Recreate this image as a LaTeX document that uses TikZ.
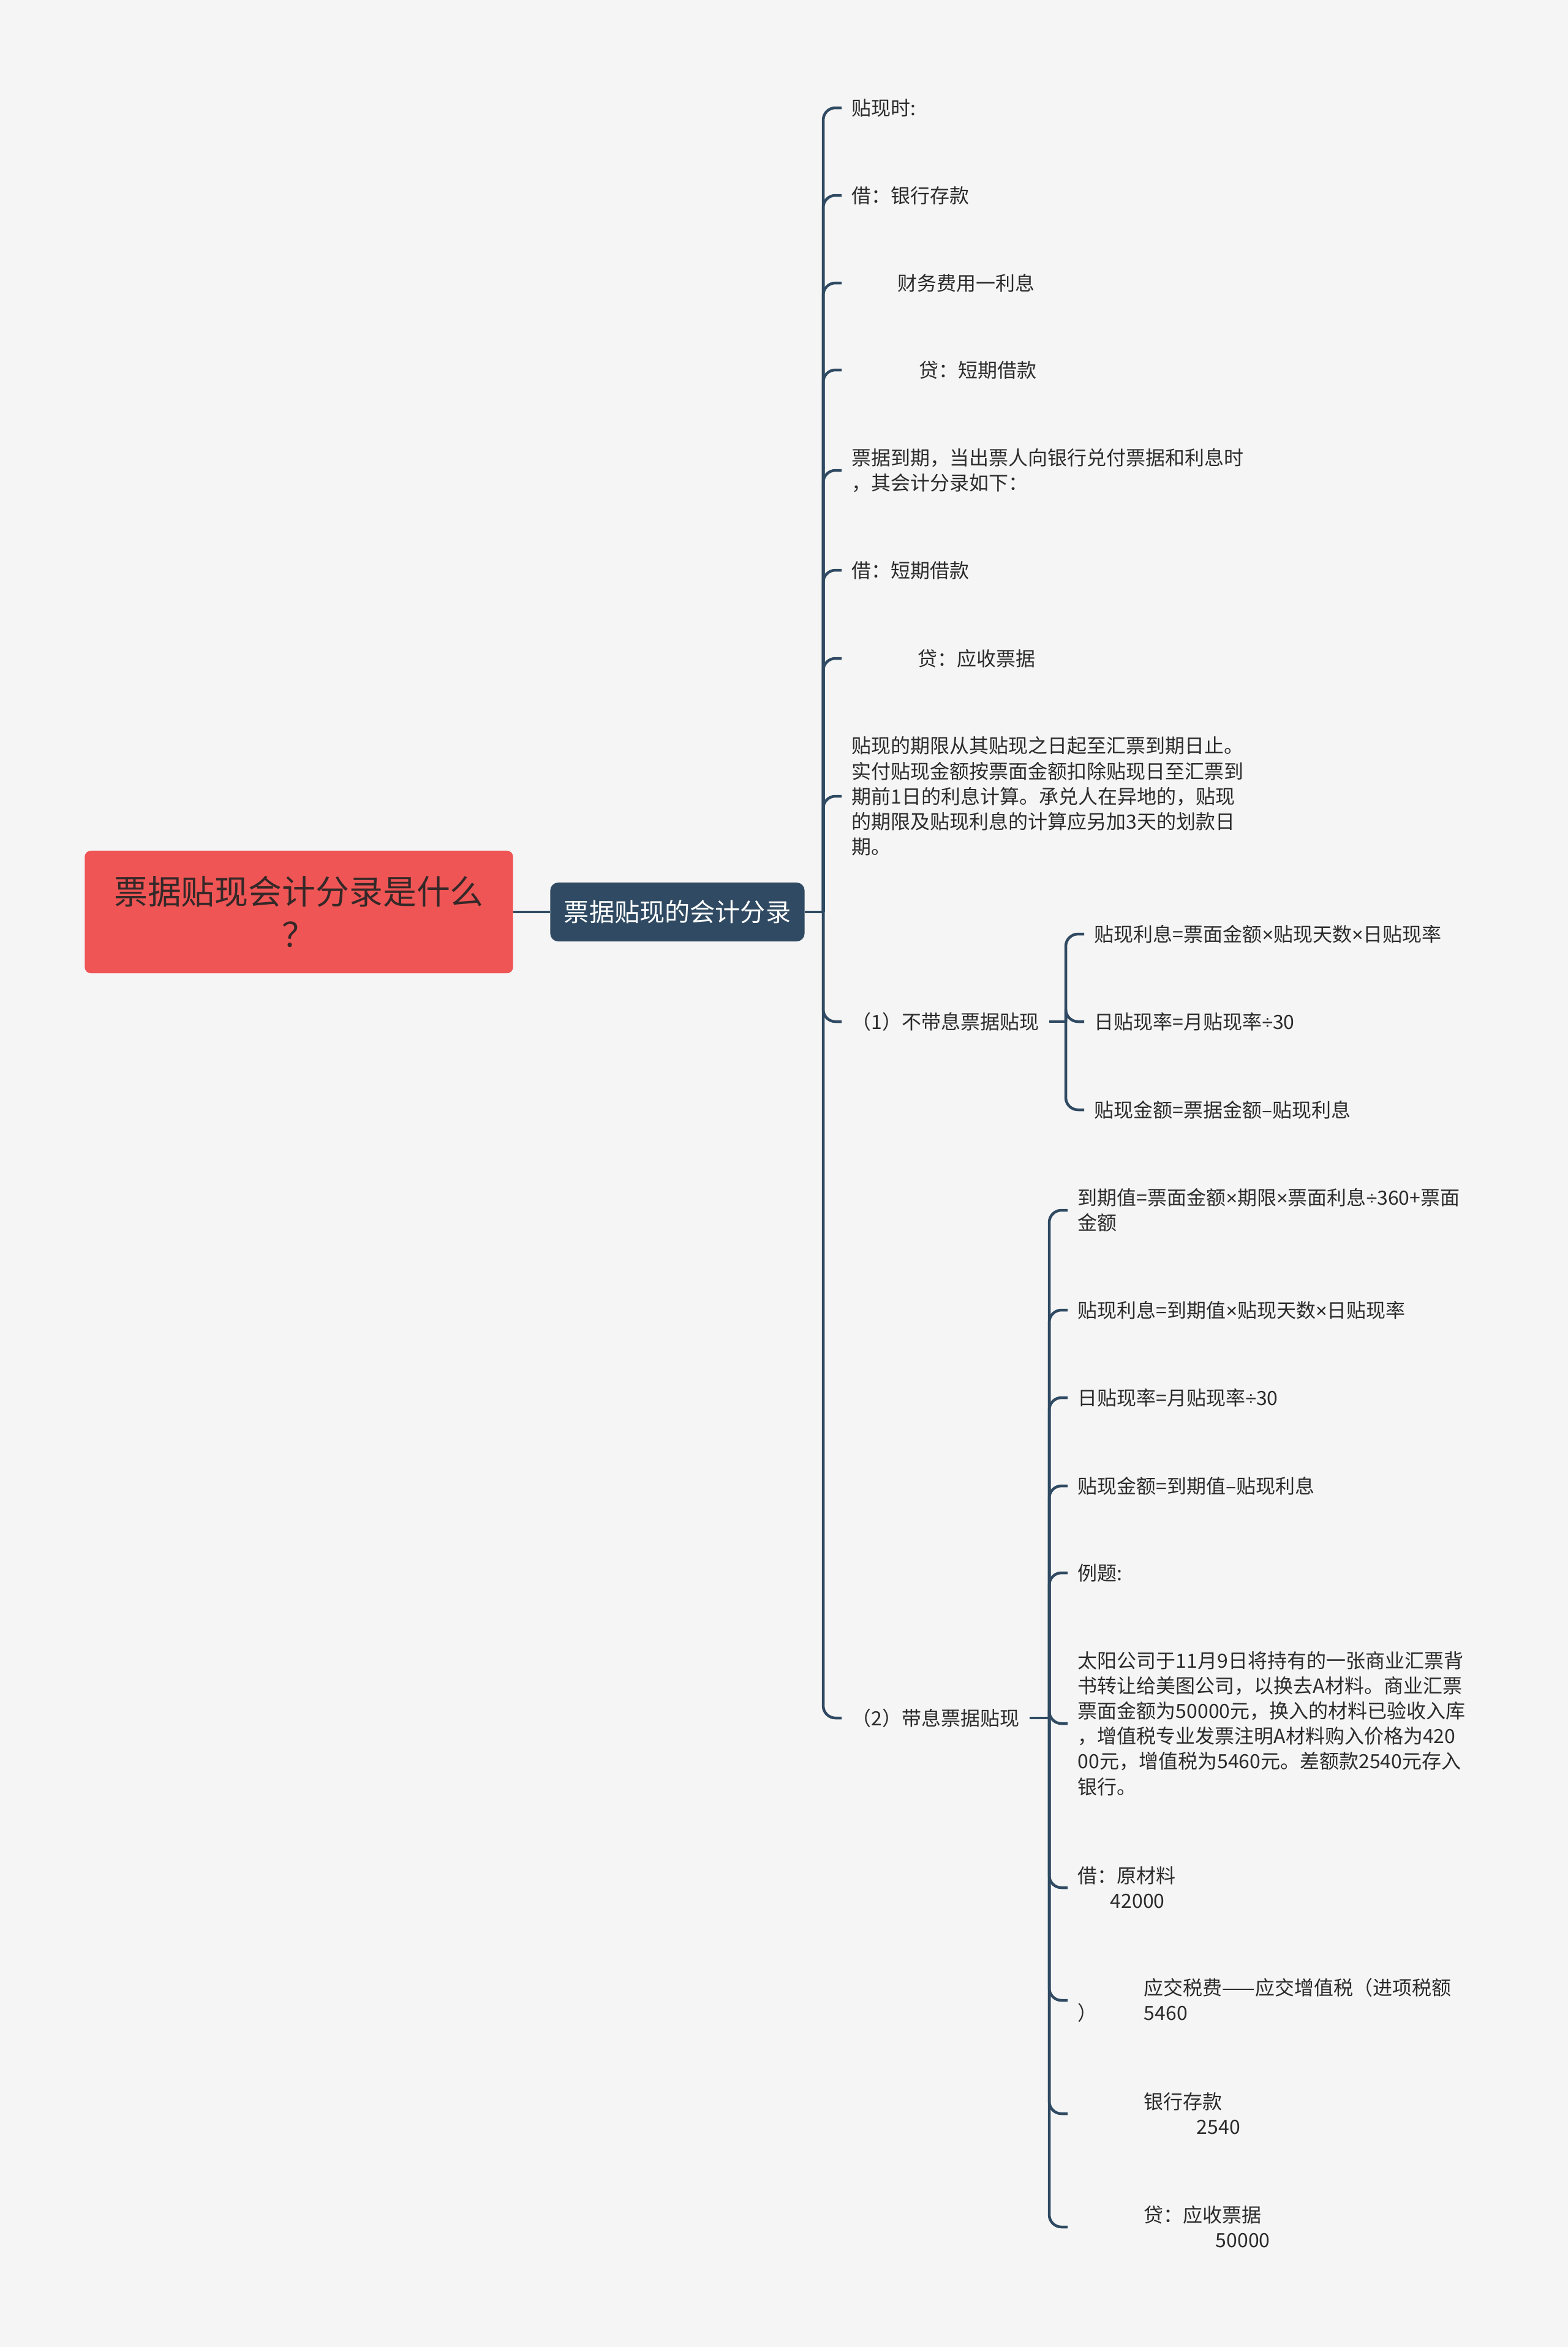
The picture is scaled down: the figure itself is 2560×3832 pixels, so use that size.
\documentclass[tikz,border=0pt]{standalone}
\usepackage{fontspec}
\setmainfont{Noto Sans CJK SC}
\newfontfamily\latfont{Liberation Sans}
\newcommand\xmul{{\latfont ×}}
\newcommand\xdiv{{\latfont ÷}}
\definecolor{rootred}{HTML}{F05555}
\definecolor{slate}{HTML}{2F4A62}
\definecolor{paper}{HTML}{F5F5F5}
\definecolor{ink}{HTML}{2B2B2B}
\definecolor{rootink}{HTML}{352828}

\begin{document}
\begin{tikzpicture}[x=0.01cm,y=-0.01cm,
    link/.style={draw=slate,line width=0.045cm,rounded corners=0.2cm},
    leaf/.style={anchor=west,inner xsep=0.16cm,inner ysep=0cm,align=left,text=ink,
      font=\fontsize{9.1pt}{11.7pt}\selectfont},
    rootbox/.style={fill=rootred,rounded corners=0.1cm,minimum width=6.99cm,minimum height=2cm,
      align=center,text=rootink,font=\fontsize{15.6pt}{19.9pt}\selectfont},
    subbox/.style={fill=slate,rounded corners=0.13cm,minimum width=4.15cm,minimum height=0.96cm,
      text=white,font=\fontsize{11.7pt}{14pt}\selectfont}]
        \fill[paper] (0,0) rectangle (2560,3832);
        \useasboundingbox (0,0) rectangle (2560,3832);

        \node[rootbox] (root) at (488,1489) {票据贴现会计分录是什么\\？};
        \node[subbox] (sub) at (1106,1489) {票据贴现的会计分录};
        \coordinate (j0) at (1344,1489);

        \node[leaf] (t1) at (1374,176) {贴现时:};
        \node[leaf] (t2) at (1374,319) {借：银行存款};
        \node[leaf] (t3) at (1374,462) {\hspace*{0.75cm}财务费用一利息};
        \node[leaf] (t4) at (1374,604) {\hspace*{1.1cm}贷：短期借款};
        \node[leaf] (t5) at (1374,768) {票据到期，当出票人向银行兑付票据和利息时\\，其会计分录如下：};
        \node[leaf] (t6) at (1374,931) {借：短期借款};
        \node[leaf] (t7) at (1374,1075) {\hspace*{1.08cm}贷：应收票据};
        \node[leaf] (t8) at (1374,1300) {贴现的期限从其贴现之日起至汇票到期日止。\\实付贴现金额按票面金额扣除贴现日至汇票到\\期前1日的利息计算。承兑人在异地的，贴现\\的期限及贴现利息的计算应另加3天的划款日\\期。};
        \node[leaf] (t9) at (1374,1668) {（1）不带息票据贴现};
        \node[leaf] (t10) at (1374,2805) {（2）带息票据贴现};

        \coordinate (j1) at (1740,1668);
        \node[leaf] (a1) at (1770,1525) {贴现利息=票面金额\xmul 贴现天数\xmul 日贴现率};
        \node[leaf] (a2) at (1770,1668) {日贴现率=月贴现率\xdiv 30};
        \node[leaf] (a3) at (1770,1812) {贴现金额=票据金额–贴现利息};

        \coordinate (j2) at (1713,2805);
        \node[leaf] (b1) at (1743,1976) {到期值=票面金额\xmul 期限\xmul 票面利息\xdiv 360+票面\\金额};
        \node[leaf] (b2) at (1743,2139) {贴现利息=到期值\xmul 贴现天数\xmul 日贴现率};
        \node[leaf] (b3) at (1743,2282) {日贴现率=月贴现率\xdiv 30};
        \node[leaf] (b4) at (1743,2426) {贴现金额=到期值–贴现利息};
        \node[leaf] (b5) at (1743,2568) {例题:};
        \node[leaf] (b6) at (1743,2814) {太阳公司于11月9日将持有的一张商业汇票背\\书转让给美图公司，以换去A材料。商业汇票\\票面金额为50000元，换入的材料已验收入库\\，增值税专业发票注明A材料购入价格为420\\00元，增值税为5460元。差额款2540元存入\\银行。};
        \node[leaf] (b7) at (1743,3082) {借：原材料\\\hspace*{0.53cm}42000};
        \node[leaf] (b8) at (1743,3266) {\hspace*{1.08cm}应交税费——应交增值税（进项税额\\）\hspace*{0.76cm}5460};
        \node[leaf] (b9) at (1743,3451) {\hspace*{1.08cm}银行存款\\\hspace*{1.94cm}2540};
        \node[leaf] (b10) at (1743,3636) {\hspace*{1.08cm}贷：应收票据\\\hspace*{2.25cm}50000};

        \draw[link] (root.east) -- (sub.west);
        \draw[link] (sub.east) -- (j0);
        \foreach \t in {t1,t2,t3,t4,t5,t6,t7,t8,t9,t10}
            \draw[link] (j0) |- (\t.west);
        \draw[link] (t9.east) -- (j1);
        \foreach \t in {a1,a2,a3}
            \draw[link] (j1) |- (\t.west);
        \draw[link] (t10.east) -- (j2);
        \foreach \t in {b1,b2,b3,b4,b5,b6,b7,b8,b9,b10}
            \draw[link] (j2) |- (\t.west);
\end{tikzpicture}
\end{document}
